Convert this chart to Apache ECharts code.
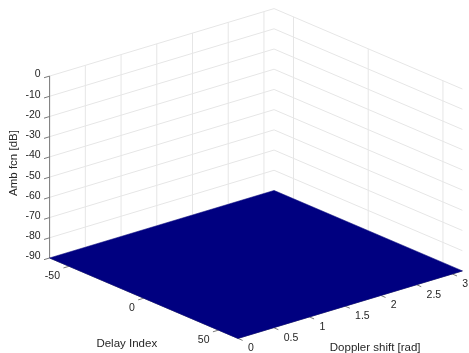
<!DOCTYPE html>
<html>
<head>
<meta charset="utf-8">
<script src="https://cdn.jsdelivr.net/npm/echarts@6/dist/echarts.min.js"></script>
<style>
  html, body { margin: 0; padding: 0; background: #fff; }
  #chart { width: 469px; height: 353px; }
</style>
</head>
<body>
<div id="chart"></div>
<script>
// axis limits
var delayRange = [-63, 63];
var dopplerRange = [0, Math.PI];
var dbRange = [-90, 0];

// tick labels
var delayTicks = [-50, 0, 50];
var dopplerTicks = [0, 0.5, 1, 1.5, 2, 2.5, 3];
var dbTicks = [0, -10, -20, -30, -40, -50, -60, -70, -80, -90];

// ambiguity function samples (everything sits on the -90 dB floor)
var delayGrid = [-63, 63];
var dopplerGrid = [0, 3.142];
var ambDb = [
  [-90, -90],
  [-90, -90]
];

// view (orthographic 3d -> 2d)
var AZ = 50 * Math.PI / 180, EL = 21 * Math.PI / 180, ZR = 0.665;
var W = 469, H = 353, S = 293, CX = 256, CY = 173.5;
var TXT = '#262626', GRID = '#e6e6e6', AXIS = '#7a7a7a';
var FONT = '"Liberation Sans", Arial, Helvetica, sans-serif';

function project(delay, doppler, db) {
  var X = (delay - delayRange[0]) / (delayRange[1] - delayRange[0]) - 0.5;
  var Y = (doppler - dopplerRange[0]) / (dopplerRange[1] - dopplerRange[0]) - 0.5;
  var Z = ((db - dbRange[0]) / (dbRange[1] - dbRange[0]) - 0.5) * ZR;
  var sx = X * Math.cos(AZ) + Y * Math.sin(AZ);
  var sy = (-X * Math.sin(AZ) + Y * Math.cos(AZ)) * Math.sin(EL) + Z * Math.cos(EL);
  return [sx, sy];
}

function jet(t) {
  function c(v) { return Math.round(Math.max(0, Math.min(1, v)) * 255); }
  return 'rgb(' + c(1.5 - Math.abs(4 * t - 3)) + ',' + c(1.5 - Math.abs(4 * t - 2)) + ',' + c(1.5 - Math.abs(4 * t - 1)) + ')';
}

var dMin = delayRange[0], dMax = delayRange[1];
var vMin = dopplerRange[0], vMax = dopplerRange[1];
var zMin = dbRange[0], zMax = dbRange[1];
var tk = 0.025;

// back walls + floor grid
var wallLines = [];
dopplerTicks.forEach(function (v) {
  wallLines.push([[dMin, v, zMin], [dMin, v, zMax]]);
  wallLines.push([[dMin, v, zMin], [dMax, v, zMin]]);
});
delayTicks.forEach(function (d) {
  wallLines.push([[d, vMax, zMin], [d, vMax, zMax]]);
  wallLines.push([[d, vMin, zMin], [d, vMax, zMin]]);
});
dbTicks.forEach(function (z) {
  wallLines.push([[dMin, vMin, z], [dMin, vMax, z], [dMax, vMax, z]]);
});

// axis lines and ticks
var axisLines = [
  [[dMin, vMin, zMin], [dMin, vMin, zMax]],
  [[dMin, vMin, zMin], [dMax, vMin, zMin]],
  [[dMax, vMin, zMin], [dMax, vMax, zMin]]
];
dbTicks.forEach(function (z) {
  axisLines.push([[dMin, vMin, z], [dMin, vMin - tk * (vMax - vMin), z]]);
});
delayTicks.forEach(function (d) {
  axisLines.push([[d, vMin, zMin], [d, vMin - tk * (vMax - vMin), zMin]]);
});
dopplerTicks.forEach(function (v) {
  axisLines.push([[dMax, v, zMin], [dMax + tk * (dMax - dMin), v, zMin]]);
});

// surface cells
var cells = [];
for (var i = 0; i < delayGrid.length - 1; i++) {
  for (var j = 0; j < dopplerGrid.length - 1; j++) {
    cells.push([[i, j], [i + 1, j], [i + 1, j + 1], [i, j + 1]].map(function (p) {
      return [delayGrid[p[0]], dopplerGrid[p[1]], ambDb[p[0]][p[1]]];
    }));
  }
}

// labels: anchor point, offset, text, align
var labels = [];
dbTicks.forEach(function (z) {
  labels.push({ at: [dMin, vMin, z], dx: -9, dy: -1.5, text: String(z), align: 'right', size: 10.5 });
});
delayTicks.forEach(function (d) {
  labels.push({ at: [d, vMin, zMin], dx: -9, dy: 9.5, text: String(d), align: 'right', size: 10.5 });
});
dopplerTicks.forEach(function (v) {
  labels.push({ at: [dMax, v, zMin], dx: 10, dy: 10, text: String(v), align: 'left', size: 10.5 });
});
labels.push({ at: [dMin, vMin, (zMin + zMax) / 2], dx: -35.5, dy: -4, text: 'Amb fcn [dB]', align: 'center', size: 11.5, rot: true });
labels.push({ at: [0, vMin, zMin], dx: -17, dy: 45.5, text: 'Delay Index', align: 'center', size: 11.5 });
labels.push({ at: [dMax, (vMin + vMax) / 2, zMin], dx: 25, dy: 43.5, text: 'Doppler shift [rad]', align: 'center', size: 11.5 });

function lineSeries(list, color, width, z) {
  return {
    type: 'custom', z: z, silent: true,
    data: list.map(function (_, k) { return [0, 0]; }),
    renderItem: function (params, api) {
      var pts = list[params.dataIndex].map(function (p) { return api.coord(project(p[0], p[1], p[2])); });
      return { type: 'polyline', shape: { points: pts }, style: { stroke: color, lineWidth: width, fill: null } };
    }
  };
}

var chart = echarts.init(document.getElementById('chart'));
chart.setOption({
  animation: false,
  grid: { left: 0, top: 0, width: W, height: H, outerBoundsMode: 'none' },
  xAxis: { type: 'value', min: -CX / S, max: (W - CX) / S, show: false },
  yAxis: { type: 'value', min: -(H - CY) / S, max: CY / S, show: false },
  series: [
    lineSeries(wallLines, GRID, 1, 1),
    lineSeries(axisLines, AXIS, 1, 2),
    {
      type: 'custom', z: 3, silent: true,
      data: cells.map(function () { return [0, 0]; }),
      renderItem: function (params, api) {
        var cell = cells[params.dataIndex];
        var mean = cell.reduce(function (s, p) { return s + p[2]; }, 0) / cell.length;
        var col = jet((mean - zMin) / (zMax - zMin));
        var pts = cell.map(function (p) { return api.coord(project(p[0], p[1], p[2])); });
        return { type: 'polygon', shape: { points: pts }, style: { fill: col, stroke: col, lineWidth: 0.5 } };
      }
    },
    {
      type: 'custom', z: 4, silent: true,
      data: labels.map(function () { return [0, 0]; }),
      renderItem: function (params, api) {
        var l = labels[params.dataIndex];
        var p = api.coord(project(l.at[0], l.at[1], l.at[2]));
        return {
          type: 'text', x: p[0] + l.dx, y: p[1] + l.dy, rotation: l.rot ? Math.PI / 2 : 0,
          style: { text: l.text, fill: TXT, fontSize: l.size, fontFamily: FONT, align: l.align, verticalAlign: 'middle' }
        };
      }
    }
  ]
});
</script>
</body>
</html>
